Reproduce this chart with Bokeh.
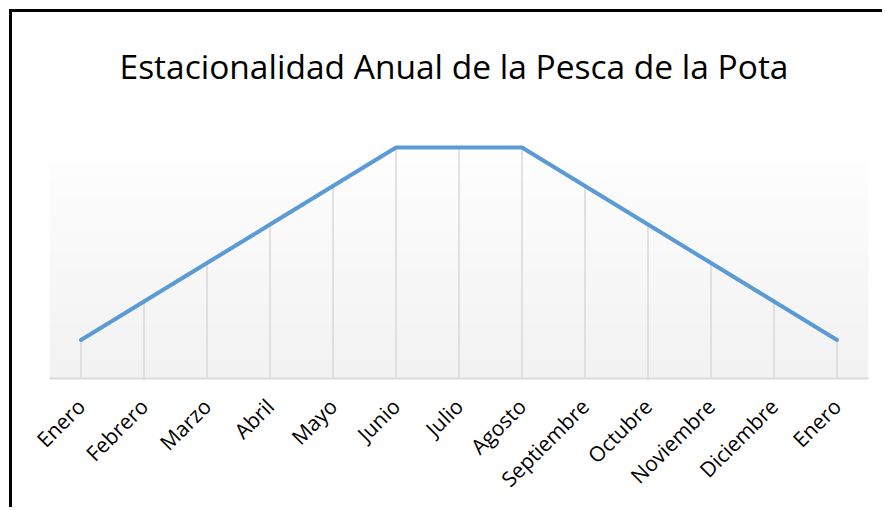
import numpy as np
from bokeh.plotting import figure
from bokeh.models import Range1d, FixedTicker, Label
from bokeh.embed import file_html
from bokeh.resources import INLINE

# Data
months = ["Enero", "Febrero", "Marzo", "Abril", "Mayo", "Junio", "Julio",
          "Agosto", "Septiembre", "Octubre", "Noviembre", "Diciembre", "Enero"]
values = [1, 2, 3, 4, 5, 6, 6, 6, 5, 4, 3, 2, 1]
positions = list(range(len(months)))
baseline = [0] * len(months)
title_text = "Estacionalidad Anual de la Pesca de la Pota"

# layout (pixels)
W, H = 873, 498
border_left, border_right, border_top, border_bottom = 37, 17, 0, 132
plot_area_px = 234          # height of the shaded plot area
frame_px = H - border_top - border_bottom

x_start, x_end = -0.5, len(months) - 0.5
y_start, y_area = 0, 6.08
y_end = y_area * frame_px / plot_area_px   # extra room above for the title

p = figure(width=W, height=H, output_backend="svg", toolbar_location=None,
           x_range=Range1d(x_start, x_end), y_range=Range1d(y_start, y_end),
           y_axis_location=None, min_border_left=border_left,
           min_border_right=border_right, min_border_top=border_top,
           min_border_bottom=border_bottom)
p.styles = {"margin-left": "9px", "margin-top": "9px",
            "border-left": "3px solid black", "border-top": "3px solid black"}
p.outline_line_color = None
p.background_fill_color = "white"
p.border_fill_color = "white"
p.xgrid.visible = False
p.ygrid.visible = False

# title as a label (screen units relative to the frame's bottom-left)
p.add_layout(Label(x=404.5, y=313, x_units="screen", y_units="screen",
                   text=title_text, text_align="center", text_baseline="alphabetic",
                   text_font="Open Sans", text_font_size="33.5px", text_color="black"))

# gradient background of plot area
n = 200
img = np.empty((n, 1), dtype=np.uint32)
view = img.view(dtype=np.uint8).reshape((n, 1, 4))
t = np.linspace(0, 1, n)  # 0 bottom -> 1 top
c = (242 + (255 - 242) * t).astype(np.uint8)
view[:, 0, 0] = c
view[:, 0, 1] = c
view[:, 0, 2] = c
view[:, 0, 3] = 255
p.image_rgba(image=[img], x=x_start, y=y_start, dw=x_end - x_start, dh=y_area - y_start)

# drop lines
p.segment(x0=positions, y0=baseline, x1=positions, y1=values,
          line_color="#d9d9d9", line_width=1.5)

# series line
p.line(positions, values, line_color="#5b9bd5", line_width=4,
       line_join="round", line_cap="round")

# x axis
ax = p.xaxis[0]
ax.ticker = FixedTicker(ticks=positions)
ax.major_label_overrides = {i: m for i, m in zip(positions, months)}
ax.major_label_orientation = np.pi / 4
ax.major_label_text_font = "Open Sans"
ax.major_label_text_font_size = "21px"
ax.major_label_text_color = "black"
ax.major_label_standoff = 18
ax.major_tick_line_color = None
ax.minor_tick_line_color = None
ax.axis_line_color = "#d9d9d9"
ax.axis_line_width = 2

open("out.html", "w").write(file_html(p, INLINE))
